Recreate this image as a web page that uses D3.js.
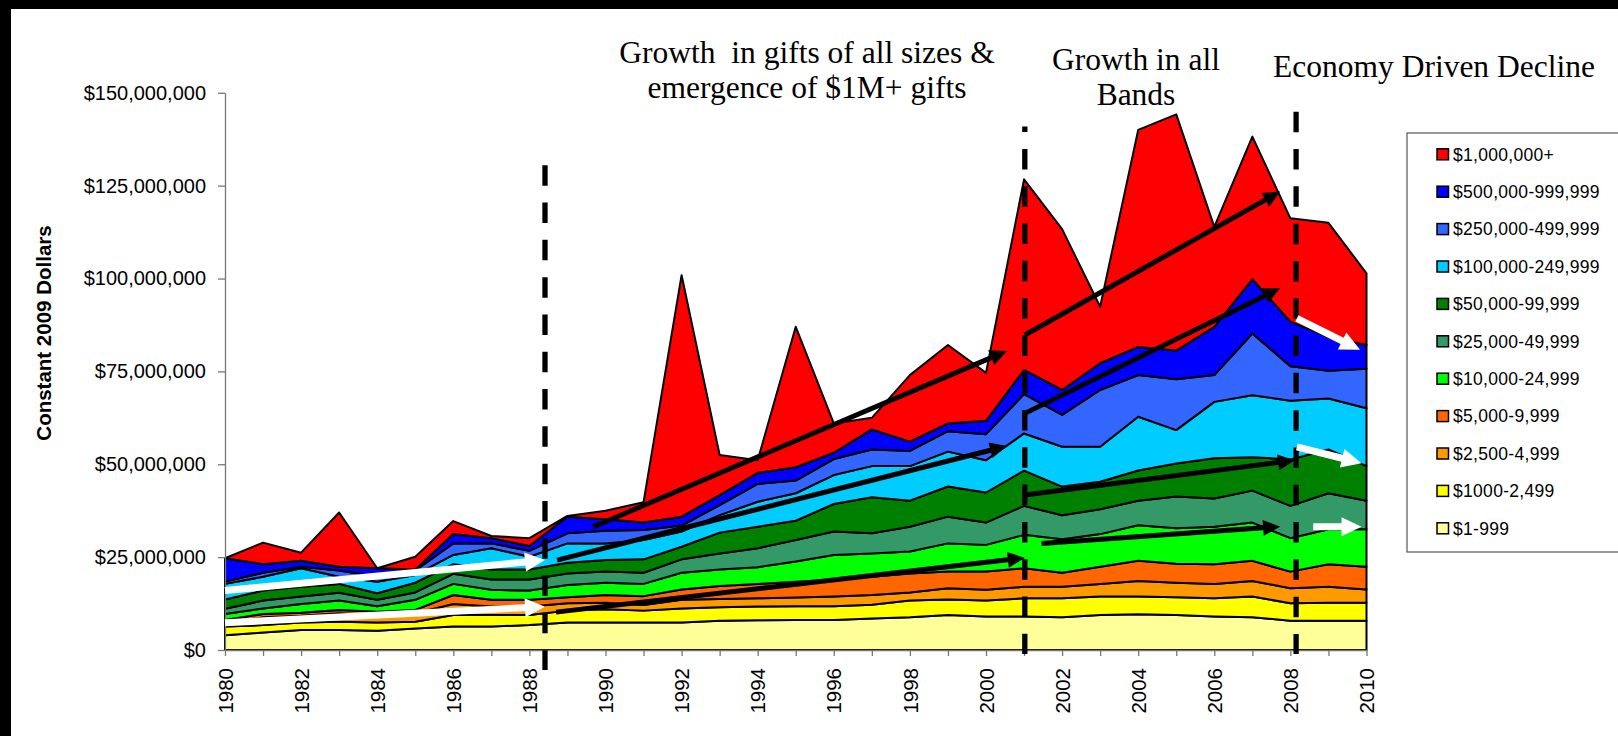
<!DOCTYPE html>
<html>
<head>
<meta charset="utf-8">
<script src="https://cdn.jsdelivr.net/npm/d3@7"></script>
<style>
  html, body { margin: 0; padding: 0; background: #fff; }
  svg { display: block; }
  .sans { font-family: "Liberation Sans", Arial, sans-serif; }
  .serif { font-family: "Liberation Serif", "Times New Roman", serif; }
</style>
</head>
<body>
<svg id="chart" width="1618" height="736"></svg>
<script>
// Gift totals by size band, constant 2009 dollars, in $ millions
const years = [1980,1981,1982,1983,1984,1985,1986,1987,1988,1989,1990,1991,1992,1993,1994,1995,
               1996,1997,1998,1999,2000,2001,2002,2003,2004,2005,2006,2007,2008,2009,2010];

const band1to999       = [4.0,4.7,5.4,5.4,5.2,5.8,6.3,6.3,6.7,7.4,7.4,7.4,7.4,7.9,8.0,8.1,8.1,8.5,8.8,9.4,9.0,9.0,8.8,9.4,9.6,9.4,9.0,8.8,7.9,7.9,7.9];
const band1000to2499   = [2.3,2.0,2.0,2.2,2.2,1.8,3.1,3.1,2.7,3.2,3.6,3.2,3.8,3.6,3.7,3.7,3.7,3.7,4.5,4.2,4.3,4.9,5.1,5.0,4.8,4.8,4.9,5.6,4.7,4.8,4.8];
const band2500to4999   = [0.7,2.1,1.8,2.3,2.0,2.3,3.0,2.3,2.3,2.0,1.7,1.5,2.3,2.2,2.2,2.3,2.6,2.6,2.2,3.0,2.9,3.1,3.1,3.4,4.2,3.9,3.9,4.2,4.0,4.3,3.6];
const band5000to9999   = [1.1,0.9,0.8,0.9,0.9,0.9,2.4,1.8,1.8,1.6,2.1,2.4,2.8,3.5,3.9,4.3,4.6,4.9,5.1,4.5,4.9,5.0,3.8,4.6,5.4,5.1,5.3,5.4,4.5,6.1,6.1];
const band10kto25k     = [1.6,1.5,2.4,2.5,1.5,2.7,3.0,2.7,2.5,3.3,3.3,3.3,4.5,4.5,4.5,5.4,6.6,6.3,5.9,7.6,7.2,9.0,9.0,8.8,9.6,9.6,10.1,10.3,9.0,9.4,10.1];
const band25kto50k     = [1.4,2.1,2.0,2.1,1.7,2.0,2.7,2.8,3.0,3.1,3.0,3.0,3.6,4.3,5.1,5.8,6.3,5.4,6.7,7.2,6.0,7.8,6.5,6.7,6.6,8.5,7.6,8.6,8.7,9.7,7.7];
const band50kto100k    = [2.5,2.7,2.6,2.4,1.8,2.6,2.6,2.7,2.7,2.9,3.1,3.6,3.4,5.6,5.8,5.2,7.4,9.7,7.0,8.1,8.1,9.5,7.7,7.4,8.1,8.9,10.8,9.0,12.5,11.8,9.3];
const band100kto250k   = [4.2,3.7,5.0,1.9,3.1,2.1,2.5,5.7,3.4,5.2,4.5,5.2,4.1,4.7,6.7,7.4,7.8,8.4,9.3,9.4,8.7,10.0,10.7,9.4,14.5,9.0,15.2,16.7,15.8,13.7,15.6];
const band250kto500k   = [0.6,1.1,0.4,1.7,1.3,1.2,3.1,1.3,1.6,2.7,3.4,2.7,1.6,2.7,4.8,3.4,4.3,4.5,4.1,5.5,7.0,10.6,8.6,15.3,11.2,13.7,7.2,16.6,9.3,7.5,10.6];
const band500kto1m     = [6.3,2.3,1.6,1.0,2.3,0.3,2.5,1.4,1.3,4.5,3.1,2.0,2.4,2.7,3.0,3.6,1.7,5.4,2.5,2.1,3.6,6.5,6.7,7.2,7.6,7.7,13.0,14.6,12.0,9.1,6.4];
const band1mPlus       = [0.0,5.8,2.2,14.6,0.0,3.4,3.5,0.6,2.1,0.2,2.3,5.5,65.0,10.8,3.4,37.8,7.9,3.1,17.9,21.1,12.9,51.3,43.3,15.2,58.4,63.6,26.9,38.4,27.8,30.7,19.3];

// Bands from the bottom of the stack upward
const bandLabels = ["$1-999","$1000-2,499","$2,500-4,999","$5,000-9,999","$10,000-24,999",
                    "$25,000-49,999","$50,000-99,999","$100,000-249,999","$250,000-499,999",
                    "$500,000-999,999","$1,000,000+"];
const bandValues = [band1to999, band1000to2499, band2500to4999, band5000to9999, band10kto25k,
                    band25kto50k, band50kto100k, band100kto250k, band250kto500k, band500kto1m, band1mPlus];
const bandColors = ["#FFFF99","#FFFF00","#FF9900","#FF6600","#00FF00",
                    "#339966","#008000","#00CCFF","#3366FF","#0000FF","#FF0000"];

const yTickValues = [0, 25, 50, 75, 100, 125, 150];
const xTickYears = years;
const xLabelYears = [1980,1982,1984,1986,1988,1990,1992,1994,1996,1998,2000,2002,2004,2006,2008,2010];

// Period dividers (year position, top and bottom in $M)
const dividers = [
  { year: 1988.41, top: 130.5, bottom: -5.4, offset: 0 },
  { year: 2001.02, top: 140.9, bottom: -1.1, offset: 15 },
  { year: 2008.15, top: 144.9, bottom: -1.1, offset: 0 }
];

// Trend arrows: [yearFrom, valueFrom, yearTo, valueTo]
const blackArrows = [
  [1989.67, 33.1, 2000.55, 80.5],
  [1988.73, 24.2, 2000.55, 54.9],
  [1988.70, 10.2, 2001.02, 24.8],
  [2001.02, 84.8, 2007.73, 123.4],
  [2001.02, 63.7, 2007.73, 97.4],
  [2001.02, 41.7, 2008.12, 51.1],
  [2001.46, 28.7, 2007.73, 33.2]
];
const whiteArrows = [
  [1980.00, 16.0, 1988.41, 24.2],
  [1980.00, 7.35, 1988.41, 11.65],
  [2008.17, 89.3, 2009.83, 80.8],
  [2008.17, 54.7, 2009.87, 50.3],
  [2008.60, 33.2, 2009.87, 33.2]
];

const svg = d3.select("#chart");
const W = 1618, H = 736;

svg.append("rect").attr("width", W).attr("height", H).attr("fill", "#fff");
// dark frame along the top and left edges
svg.append("rect").attr("x", 0).attr("y", 0).attr("width", W).attr("height", 9).attr("fill", "#000");
svg.append("rect").attr("x", 0).attr("y", 0).attr("width", 11).attr("height", H).attr("fill", "#000");

const x = d3.scaleLinear().domain([1980, 2010]).range([225, 1366.5]);
const y = d3.scaleLinear().domain([0, 150]).range([650, 92.8]);

// Stacked areas
const keys = bandLabels;
const rows = years.map((yr, i) => {
  const r = { year: yr };
  keys.forEach((k, j) => { r[k] = bandValues[j][i]; });
  return r;
});
const series = d3.stack().keys(keys)(rows);
const area = d3.area()
  .x(d => x(d.data.year))
  .y0(d => y(d[0]))
  .y1(d => y(d[1]));

svg.append("g").selectAll("path")
  .data(series)
  .join("path")
  .attr("d", area)
  .attr("fill", (d, i) => bandColors[i])
  .attr("stroke", "#000")
  .attr("stroke-width", 2)
  .attr("stroke-linejoin", "round");

// Y axis
const yAxis = svg.append("g")
  .attr("class", "sans")
  .attr("transform", `translate(${x(1980)},0)`)
  .call(d3.axisLeft(y).tickValues(yTickValues).tickSize(7).tickSizeOuter(0).tickPadding(12)
    .tickFormat(v => d3.format("$,")(v * 1e6)));
yAxis.select(".domain").attr("stroke", "#777").attr("stroke-width", 1.3);
yAxis.selectAll(".tick line").attr("stroke", "#777").attr("stroke-width", 1.3);
yAxis.selectAll(".tick text").attr("font-size", 20).attr("fill", "#000")
  .attr("font-family", "Liberation Sans, Arial, sans-serif");

// X axis
const xAxis = svg.append("g")
  .attr("transform", `translate(0,${y(0)})`)
  .call(d3.axisBottom(x).tickValues(xTickYears).tickSize(6).tickSizeOuter(0)
    .tickFormat(d => xLabelYears.includes(d) ? String(d) : ""));
xAxis.select(".domain").attr("stroke", "#777").attr("stroke-width", 1.3);
xAxis.selectAll(".tick line").attr("stroke", "#777").attr("stroke-width", 1.3);
xAxis.selectAll(".tick text")
  .attr("y", null).attr("dy", "0.35em")
  .attr("transform", "translate(0,18) rotate(-90)")
  .attr("text-anchor", "end")
  .attr("font-size", 20.5).attr("fill", "#000")
  .attr("font-family", "Liberation Sans, Arial, sans-serif");

// Y axis title
svg.append("text")
  .attr("class", "sans")
  .attr("transform", "translate(51,333) rotate(-90)")
  .attr("text-anchor", "middle")
  .attr("font-size", 20.5)
  .attr("font-weight", "bold")
  .text("Constant 2009 Dollars");

// Period dividers
svg.append("g").selectAll("line")
  .data(dividers)
  .join("line")
  .attr("x1", d => x(d.year)).attr("x2", d => x(d.year))
  .attr("y1", d => y(d.top)).attr("y2", d => y(d.bottom))
  .attr("stroke", "#000")
  .attr("stroke-width", 5.3)
  .attr("stroke-dasharray", "20.5 16.8")
  .attr("stroke-dashoffset", d => d.offset);

// Arrow drawing: shaft plus triangular head
function arrowPath(x1, y1, x2, y2, headLen, headHalf, shaft) {
  const dx = x2 - x1, dy = y2 - y1;
  const len = Math.hypot(dx, dy);
  const ux = dx / len, uy = dy / len;
  const nx = -uy, ny = ux;
  const bx = x2 - ux * headLen, by = y2 - uy * headLen;
  const s = shaft / 2;
  const pts = [
    [x1 + nx * s, y1 + ny * s],
    [bx + nx * s, by + ny * s],
    [bx + nx * headHalf, by + ny * headHalf],
    [x2, y2],
    [bx - nx * headHalf, by - ny * headHalf],
    [bx - nx * s, by - ny * s],
    [x1 - nx * s, y1 - ny * s]
  ];
  return "M" + pts.map(p => p[0].toFixed(2) + "," + p[1].toFixed(2)).join("L") + "Z";
}

svg.append("g").selectAll("path")
  .data(whiteArrows)
  .join("path")
  .attr("d", a => arrowPath(x(a[0]), y(a[1]), x(a[2]), y(a[3]), 20, 9.5, 7))
  .attr("fill", "#fff");

svg.append("g").selectAll("path")
  .data(blackArrows)
  .join("path")
  .attr("d", a => arrowPath(x(a[0]), y(a[1]), x(a[2]), y(a[3]), 17, 8, 5))
  .attr("fill", "#000");

// Period headings
const headings = [
  { cx: 807, lines: ["Growth  in gifts of all sizes &", "emergence of $1M+ gifts"], y0: 63 },
  { cx: 1136, lines: ["Growth in all", "Bands"], y0: 70 },
  { cx: 1434, lines: ["Economy Driven Decline"], y0: 77 }
];
headings.forEach(h => {
  h.lines.forEach((t, i) => {
    svg.append("text")
      .attr("class", "serif")
      .attr("x", h.cx)
      .attr("y", h.y0 + i * 35)
      .attr("text-anchor", "middle")
      .attr("font-size", 31.5)
      .style("white-space", "pre")
      .text(t);
  });
});

// Legend (box runs off the right edge)
const legend = svg.append("g").attr("class", "sans");
legend.append("rect")
  .attr("x", 1407).attr("y", 133)
  .attr("width", 320).attr("height", 419)
  .attr("fill", "#fff").attr("stroke", "#555").attr("stroke-width", 1.2);
const legendOrder = d3.range(bandLabels.length).reverse();
legendOrder.forEach((idx, i) => {
  const cy = 154.3 + i * 37.4;
  legend.append("rect")
    .attr("x", 1437).attr("y", cy - 5.5)
    .attr("width", 11.5).attr("height", 11)
    .attr("fill", bandColors[idx]).attr("stroke", "#000").attr("stroke-width", 1.5);
  legend.append("text")
    .attr("x", 1453).attr("y", cy).attr("dy", "0.36em")
    .attr("font-size", 17.5)
    .attr("letter-spacing", 0.3)
    .text(bandLabels[idx]);
});
</script>
</body>
</html>
